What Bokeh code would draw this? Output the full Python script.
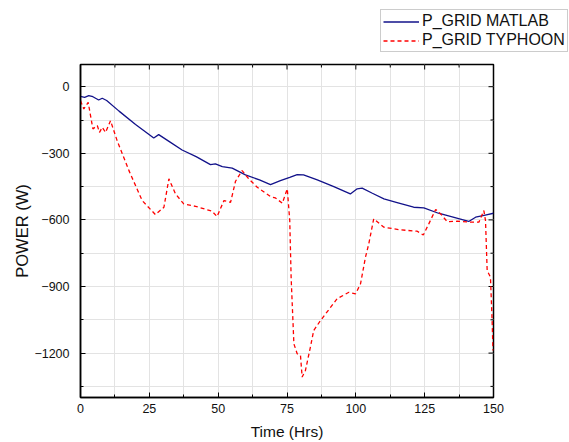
import math
from bokeh.plotting import figure
from bokeh.layouts import column
from bokeh.models import Range1d, Legend, LegendItem, SingleIntervalTicker
from bokeh.embed import file_html
from bokeh.resources import INLINE

# Time (hrs) and power (W) for MATLAB result
t_matlab = [0, 1.5, 3, 4.5, 6.6, 7.9, 9.5, 14, 20, 26.6, 28.4, 32, 36.9, 42, 47.2, 49, 51.5,
            55.1, 59.9, 65, 69, 72.6, 76, 78.7, 81, 86, 92, 98, 100.5, 102.3, 106, 110.2,
            115, 121, 124.7, 130, 136, 141, 143.5, 147, 150]
p_matlab = [-44, -48, -40, -45, -60, -52, -62, -110, -170, -231, -216, -245, -285, -315, -351,
            -348, -360, -367, -397, -420, -441, -423, -408, -396, -397, -420, -450, -483, -460,
            -457, -480, -505, -522, -543, -546, -570, -590, -607, -588, -578, -570]

# Time (hrs) and power (W) for TYPHOON result
t_typhoon = [0, 1.2, 2.8, 4.5, 6.1, 6.9, 7.9, 9.1, 10.9, 13.3, 17.6, 22.4, 27.2, 30.3, 32.1,
             34.5, 37.5, 41.8, 47.8, 49.6, 52.1, 54.5, 56.3, 58.7, 61.1, 64.2, 69, 70.8, 73.3,
             75.1, 76, 76.5, 77.5, 78.7, 79.9, 80.5, 81.7, 83.5, 84.7, 87.2, 93.2, 97.5, 99.9,
             101.7, 103.5, 104.7, 106.5, 110.2, 115.6, 122.3, 124.5, 126.5, 129, 130.8, 133.2,
             136.8, 141.7, 144.7, 146.5, 147.1, 147.7, 148.9, 149.5, 149.8]
p_typhoon = [-63, -100, -71, -190, -175, -206, -183, -206, -153, -243, -378, -513, -576, -543,
             -415, -483, -528, -539, -561, -585, -513, -521, -426, -378, -415, -453, -495, -501,
             -525, -460, -603, -858, -1158, -1203, -1211, -1308, -1278, -1173, -1098, -1053,
             -955, -926, -933, -888, -768, -708, -595, -633, -644, -651, -668, -618, -553, -573,
             -608, -606, -610, -610, -558, -603, -828, -858, -1053, -1188]

x_major = [0, 25, 50, 75, 100, 125, 150]
x_minor = [12.5, 37.5, 62.5, 87.5, 112.5, 137.5]
y_major = [0, -300, -600, -900, -1200]
y_minor = [-150, -450, -750, -1050, -1350]

X_MIN, X_MAX = 0, 150
Y_MIN, Y_MAX = -1400, 100

FONT = "Liberation Sans"
BLUE = "#12128a"
RED = "#ff0000"

# ---------------- legend strip above the plot ----------------
LEG_H = 62
lf = figure(width=569, height=LEG_H, output_backend="svg", toolbar_location=None,
            x_range=Range1d(0, 569), y_range=Range1d(0, LEG_H),
            min_border_left=0, min_border_right=0, min_border_top=0, min_border_bottom=0)
try:
    lf.frame_align = False
except Exception:
    pass
lf.axis.visible = False
lf.grid.visible = False
lf.outline_line_color = None
# the series lie below this strip's range, so only their legend samples show
lr1 = lf.line(t_matlab, p_matlab, line_color=BLUE, line_width=1.3)
lr2 = lf.line(t_typhoon, p_typhoon, line_color=RED, line_width=1.3, line_dash="4 3")
legend = Legend(items=[LegendItem(label="P_GRID MATLAB", renderers=[lr1]),
                       LegendItem(label="P_GRID TYPHOON", renderers=[lr2])],
                location=(380, LEG_H - 52), orientation="vertical",
                border_line_color="#999999", border_line_width=1,
                background_fill_color="white", background_fill_alpha=1,
                label_text_font=FONT, label_text_font_size="16px",
                label_text_color="#111111",
                glyph_width=36, glyph_height=17, label_height=17,
                label_standoff=3, spacing=1, padding=2, margin=0)
lf.add_layout(legend, "center")

# ---------------- main plot ----------------
p = figure(width=569, height=442 - LEG_H, output_backend="svg", toolbar_location=None,
           x_range=Range1d(X_MIN, X_MAX), y_range=Range1d(Y_MIN, Y_MAX),
           min_border_left=80, min_border_right=76, min_border_top=2, min_border_bottom=45,
           x_axis_label="Time (Hrs)", y_axis_label="POWER (W)")
try:
    p.frame_align = False
except Exception:
    pass

p.outline_line_color = "black"
p.outline_line_width = 1.5
p.background_fill_color = "white"
p.border_fill_color = "white"

for ax, step in ((p.xaxis[0], 25), (p.yaxis[0], 300)):
    ax.ticker = SingleIntervalTicker(interval=step, num_minor_ticks=2)
    ax.axis_line_color = "black"
    ax.axis_line_width = 1.5
    ax.major_tick_in = 5
    ax.major_tick_out = 0
    ax.minor_tick_in = 3
    ax.minor_tick_out = 0
    ax.major_tick_line_color = "black"
    ax.minor_tick_line_color = "black"
    ax.major_label_text_font = FONT
    ax.major_label_text_font_size = "12.5px"
    ax.major_label_text_color = "#111111"
    ax.axis_label_text_font = FONT
    ax.axis_label_text_font_style = "normal"
    ax.axis_label_text_color = "#111111"

p.xaxis[0].major_label_standoff = 6
p.yaxis[0].major_label_standoff = 11
p.xaxis[0].axis_label_text_font_size = "15.5px"
p.yaxis[0].axis_label_text_font_size = "16.5px"
p.xaxis[0].axis_label_standoff = 7
p.yaxis[0].axis_label_standoff = 0

p.xgrid.ticker = SingleIntervalTicker(interval=12.5)
p.ygrid.ticker = SingleIntervalTicker(interval=150)
p.xgrid.grid_line_color = "#e3e3e3"
p.ygrid.grid_line_color = "#e3e3e3"

# mirrored inward ticks on the top and right edges
p.ray(x=x_major, y=[Y_MAX] * len(x_major), length=5, length_units="screen",
      angle=-math.pi / 2, line_color="black", line_width=1)
p.ray(x=x_minor, y=[Y_MAX] * len(x_minor), length=3, length_units="screen",
      angle=-math.pi / 2, line_color="black", line_width=1)
p.ray(x=[X_MAX] * len(y_major), y=y_major, length=5, length_units="screen",
      angle=math.pi, line_color="black", line_width=1)
p.ray(x=[X_MAX] * len(y_minor), y=y_minor, length=3, length_units="screen",
      angle=math.pi, line_color="black", line_width=1)

p.line(t_matlab, p_matlab, line_color=BLUE, line_width=1.3)
p.line(t_typhoon, p_typhoon, line_color=RED, line_width=1.3, line_dash="4 3")

layout = column(lf, p, spacing=0)
open("out.html", "w").write(file_html(layout, INLINE))
